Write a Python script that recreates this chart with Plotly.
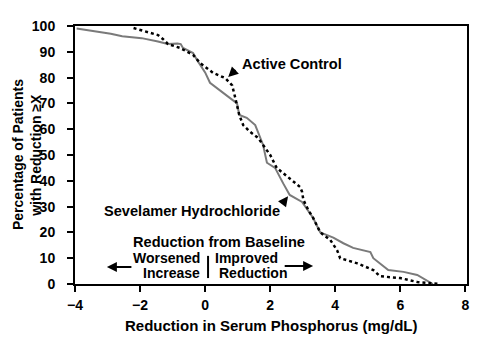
import plotly.graph_objects as go

# Sevelamer Hydrochloride (solid gray)
sev_x = [-3.95, -3.5, -2.9, -2.55, -1.95, -1.45, -1.15, -0.85, -0.75, -0.68, -0.37, -0.25, 0.0, 0.15,
         0.45, 0.98, 1.05, 1.28, 1.54, 1.63, 1.7, 1.78, 1.9, 2.15, 2.4, 2.6, 2.98, 3.08, 3.32, 3.54,
         3.94, 4.25, 4.55, 5.08, 5.17, 5.63, 6.1, 6.52, 7.0]
sev_y = [99, 98.2, 97, 96, 95.3, 94, 93, 93.2, 93, 91.5, 89.5, 86.8, 82, 78,
         75, 70, 65.5, 64.4, 61.6, 59, 56.6, 54, 47, 45, 39, 34.5, 31.8, 30, 25.6, 20,
         18, 15.8, 14, 12.4, 10, 5.4, 4.7, 3.5, 0]

# Active Control (dotted black)
ac_x = [-2.2, -1.78, -1.45, -1.3, -1.14, -0.77, -0.37, -0.15, 0.25, 0.62, 0.83, 0.92, 1.05, 1.17,
        1.38, 1.63, 2.0, 2.2, 2.4, 2.92, 2.98, 3.02, 3.17, 3.32, 3.54, 3.85, 4.06, 4.15, 4.68,
        5.17, 5.38, 6.0, 6.52, 7.2]
ac_y = [99.2, 97.7, 96.5, 95, 93, 91.5, 88.8, 85.6, 81.8, 79.8, 77, 72.5, 65.5, 61.6,
        59, 56.6, 50, 45, 43, 37.6, 35.7, 32.6, 28.7, 25.6, 20, 17, 13, 10, 8,
        5.4, 3, 2.3, 0.8, 0]

x_ticks = [-4, -2, 0, 2, 4, 6, 8]
y_ticks = [0, 10, 20, 30, 40, 50, 60, 70, 80, 90, 100]

FONT = "Liberation Sans, Arial, sans-serif"

fig = go.Figure()
fig.add_trace(go.Scatter(x=sev_x, y=sev_y, mode="lines",
                         line=dict(color="#7a7a7a", width=2), name="Sevelamer Hydrochloride"))
fig.add_trace(go.Scatter(x=ac_x, y=ac_y, mode="lines",
                         line=dict(color="black", width=2.5, dash="dot"), name="Active Control"))

axis_common = dict(showgrid=False, zeroline=False, showline=True, linecolor="black", linewidth=2,
                   mirror=True, ticks="outside", ticklen=6, tickwidth=2, tickcolor="black",
                   tickfont=dict(family=FONT, size=14, color="black", weight="bold"))

fig.update_xaxes(range=[-4, 8.05], tickvals=x_ticks, ticklabelstandoff=1, **axis_common)
fig.update_yaxes(range=[0, 100], tickvals=y_ticks, ticklabelstandoff=9, **axis_common)

bold = dict(family=FONT, size=14.6, color="black", weight="bold")
bold_small = dict(family=FONT, size=14, color="black", weight="bold")
ann = []
ann.append(dict(x=2.68, y=85.3, xref="x", yref="y", text="Active Control", showarrow=False, font=bold))
ann.append(dict(x=0.71, y=80.2, ax=0.98, ay=83.5, xref="x", yref="y", axref="x", ayref="y", text="",
                showarrow=True, arrowhead=2, arrowsize=1, arrowwidth=2, arrowcolor="black"))
ann.append(dict(x=-0.4, y=28.3, xref="x", yref="y", text="Sevelamer Hydrochloride", showarrow=False, font=bold))
ann.append(dict(x=2.55, y=34.0, ax=2.37, ay=31.0, xref="x", yref="y", axref="x", ayref="y", text="",
                showarrow=True, arrowhead=2, arrowsize=1, arrowwidth=2, arrowcolor="black"))
ann.append(dict(x=0.42, y=16.3, xref="x", yref="y", text="Reduction from Baseline", showarrow=False, font=bold))
ann.append(dict(x=-0.09, y=9.9, xref="x", yref="y", xanchor="right", text="Worsened", showarrow=False, font=bold_small))
ann.append(dict(x=-0.09, y=4.2, xref="x", yref="y", xanchor="right", text="Increase", showarrow=False, font=bold_small))
ann.append(dict(x=0.25, y=9.9, xref="x", yref="y", xanchor="left", text="Improved", showarrow=False, font=bold_small))
ann.append(dict(x=0.37, y=4.2, xref="x", yref="y", xanchor="left", text="Reduction", showarrow=False, font=bold_small))
ann.append(dict(x=-3.02, y=6.6, ax=-2.22, ay=6.6, xref="x", yref="y", axref="x", ayref="y", text="",
                showarrow=True, arrowhead=2, arrowsize=1, arrowwidth=2, arrowcolor="black"))
ann.append(dict(x=3.32, y=7.0, ax=2.4, ay=7.0, xref="x", yref="y", axref="x", ayref="y", text="",
                showarrow=True, arrowhead=2, arrowsize=1, arrowwidth=2, arrowcolor="black"))
ann.append(dict(x=-0.1454, y=0.5, xref="paper", yref="paper", xanchor="center", yanchor="middle",
                text="Percentage of Patients", textangle=-90, showarrow=False, font=bold_small))
ann.append(dict(x=-0.100, y=0.5, xref="paper", yref="paper", xanchor="center", yanchor="middle",
                text="with Reduction \u2265X", textangle=-90, showarrow=False, font=bold_small))
ann.append(dict(x=0.5, y=-0.159, xref="paper", yref="paper", xanchor="center", yanchor="middle",
                text="Reduction in Serum Phosphorus (mg/dL)", showarrow=False,
                font=dict(family=FONT, size=15, color="black", weight="bold")))

fig.update_layout(
    width=482, height=340,
    margin=dict(l=75, r=15, t=26, b=56),
    paper_bgcolor="white", plot_bgcolor="white",
    showlegend=False,
    annotations=ann,
    shapes=[dict(type="line", xref="x", yref="y", x0=0.09, x1=0.09, y0=2.3, y1=10.9,
                 line=dict(color="black", width=2))],
)

fig.write_html("out.html")
